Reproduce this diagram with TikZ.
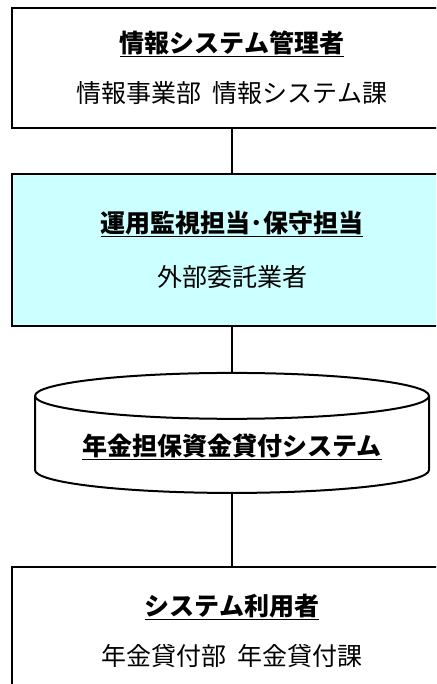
\documentclass[tikz,border=0pt]{standalone}
\usepackage{fontspec}
\setmainfont{Noto Sans CJK JP}
\usepackage{tikz}
\usetikzlibrary{shapes.geometric}

\definecolor{paleCyan}{HTML}{CCFFFF}
\tikzset{
  unitbox/.style={draw, line width=2pt, minimum width=440pt, align=center,
    font=\fontsize{25}{50}\selectfont},
  dbbox/.style={draw, line width=2pt, cylinder, shape border rotate=90, aspect=0.15,
    minimum width=394pt, minimum height=120pt, font=\fontsize{25}{30}\selectfont},
  link/.style={line width=1.6pt}
}

\begin{document}
\begin{tikzpicture}[x=1pt, y=-1pt]
    \useasboundingbox (0, 0) rectangle (436, 684);
    \clip (0, 0) rectangle (436, 684);

    \node [unitbox, minimum height=120pt] (admin) at (232, 68)
      {\textbf{\underline{情報システム管理者}}\\情報事業部\hspace{0.45em}情報システム課};
    \node [unitbox, minimum height=152pt, fill=paleCyan] (ops) at (232, 250)
      {\textbf{\underline{運用監視担当･保守担当}}\\[4pt]外部委託業者};
    \node [dbbox] (sys) at (232, 447) {\textbf{\underline{年金担保資金貸付システム}}};
    \node [unitbox, minimum height=128pt] (user) at (232, 631)
      {\textbf{\underline{システム利用者}}\\年金貸付部\hspace{0.45em}年金貸付課};

    \draw [link] (admin.south) -- (ops.north);
    \draw [link] (ops.south) -- (sys.top);
    \draw [link] (sys.bottom) -- (user.north);
  \end{tikzpicture}
\end{document}
